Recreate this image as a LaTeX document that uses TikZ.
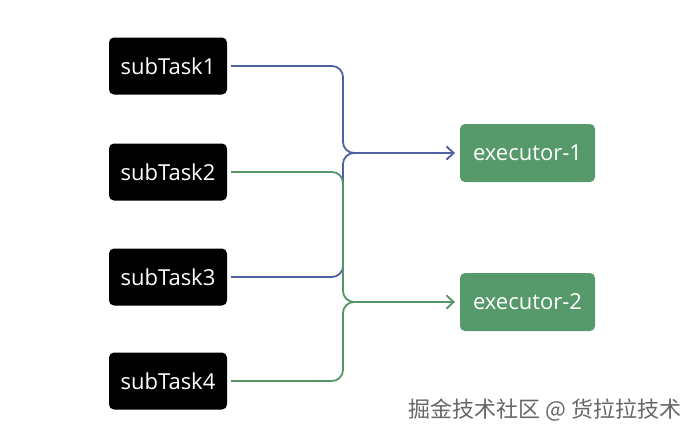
\documentclass[tikz,border=0pt]{standalone}
\usepackage{fontspec}
\setmainfont{Open Sans}
\newfontfamily\cjkfont{Noto Sans CJK SC}
\usetikzlibrary{positioning, arrows.meta}
\definecolor{taskblue}{RGB}{80,96,160}
\definecolor{taskgreen}{RGB}{84,150,104}
\definecolor{execfill}{RGB}{86,153,106}
\begin{document}
\begin{tikzpicture}[
    x=1pt, y=-1pt,
    subtask/.style={draw=none, rectangle, fill=black, text=white, minimum height=57pt, minimum width=118pt, rounded corners=5pt, align=center, font=\fontsize{22}{26}\selectfont},
    executor/.style={draw=none, rectangle, fill=execfill, text=white, minimum height=58pt, minimum width=135pt, rounded corners=5pt, align=center, font=\fontsize{22}{26}\selectfont},
    link/.style={line width=1.8pt, rounded corners=11pt, -{Straight Barb[length=7pt, width=13pt, line width=1.6pt]}}
]
    \useasboundingbox[fill=white] (0,0) rectangle (698,437);
    % Sub tasks on the left
    \node[subtask] (t1) at (168,66) {subTask1};
    \node[subtask] (t2) at (168,172) {subTask2};
    \node[subtask] (t3) at (168,277) {subTask3};
    \node[subtask] (t4) at (168,381) {subTask4};
    % Executors on the right
    \node[executor] (e1) at (527.5,153) {executor-1};
    \node[executor] (e2) at (527.5,302) {executor-2};
    % Joints where the links merge
    \coordinate (j1) at (343,153);
    \coordinate (j2) at (343,302);
    % Links to executor-1
    \draw[link, taskblue] ([xshift=4pt]t1.east) -| (j1) -- ([xshift=-5pt]e1.west);
    \draw[link, taskblue] ([xshift=4pt]t3.east) -| (j1) -- ([xshift=-5pt]e1.west);
    % Links to executor-2
    \draw[link, taskgreen] ([xshift=4pt]t2.east) -| (j2) -- ([xshift=-5pt]e2.west);
    \draw[link, taskgreen] ([xshift=4pt]t4.east) -| (j2) -- ([xshift=-5pt]e2.west);
    % Watermark
    \node[text=black!60, font=\cjkfont\fontsize{22}{26}\selectfont, anchor=east] (mark) at (685,410) {掘金技术社区 @ 货拉拉技术};
\end{tikzpicture}
\end{document}
